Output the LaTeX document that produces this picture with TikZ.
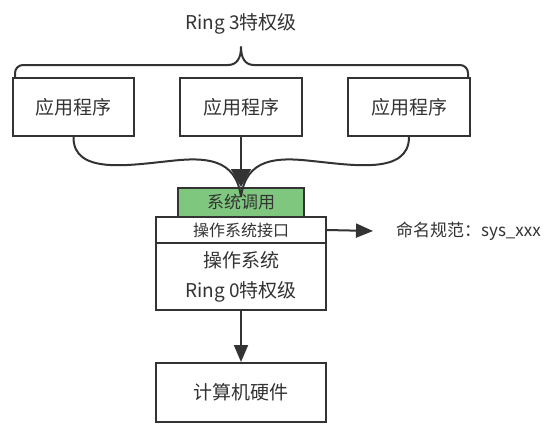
\documentclass[tikz,border=0pt]{standalone}
\usepackage{fontspec}
\setmainfont{Noto Sans CJK SC}
\usetikzlibrary{arrows.meta}
\definecolor{ink}{HTML}{333333}
\definecolor{sysgreen}{HTML}{7FC77F}
\tikzset{
  box/.style={draw=ink, line width=2pt, fill=white, inner sep=0pt, text=ink, font=\fontsize{19}{23}\selectfont, align=center},
  lbl/.style={inner sep=0pt, text=ink},
  conn/.style={draw=ink, line width=2pt},
  bighead/.style={-{Triangle[length=18pt 0 0,width=20pt 0 0]}},
  smallhead/.style={-{Triangle[length=17pt 0 0,width=14pt 0 0]}}
}
\begin{document}
\begin{tikzpicture}[x=1pt,y=-1pt]
\useasboundingbox[fill=white] (0,0) rectangle (559,432);
% top label and brace
\node[lbl, font=\fontsize{19}{23}\selectfont] (ring3) at (241,24) {Ring 3特权级};
\draw[conn, line cap=round, line join=round] (15,77) -- (15,73) arc[start angle=180, end angle=270, radius=8] -- (228,65)
  .. controls (237,65) and (241,58) .. (241,47)
  .. controls (241,58) and (245,65) .. (254,65) -- (460,65)
  arc[start angle=270, end angle=360, radius=8] -- (468,77);
% application boxes
\node[box, minimum width=121pt, minimum height=58pt] (app1) at (73.5,107) {应用程序};
\node[box, minimum width=122pt, minimum height=58pt] (app2) at (241,107) {应用程序};
\node[box, minimum width=122pt, minimum height=58pt] (app3) at (409,107) {应用程序};
% OS stack
\node[box, fill=sysgreen, minimum width=126pt, minimum height=29pt, font=\fontsize{17}{20}\selectfont] (sys) at (241,202.5) {系统调用};
\node[box, minimum width=170pt, minimum height=26pt, font=\fontsize{16}{19}\selectfont] (iface) at (241,230) {操作系统接口};
\node[box, minimum width=170pt, minimum height=67pt, font=\fontsize{19}{30}\selectfont] (os) at (241,276.5) {操作系统\\Ring 0特权级};
\node[box, minimum width=170pt, minimum height=59pt] (hw) at (241,392.5) {计算机硬件};
\node[lbl, anchor=west, font=\fontsize{17}{20}\selectfont] (nm) at (396,231) {命名规范：sys\_xxx};
% connectors
\draw[conn] (app1.south) .. controls (73,175) and (130,165) .. (170,161)
  .. controls (205,157) and (236,158) .. ([yshift=-10pt]sys.north);
\draw[conn] (app3.south) .. controls (409,175) and (352,165) .. (312,161)
  .. controls (277,157) and (246,158) .. ([yshift=-10pt]sys.north);
\draw[conn, bighead] (app2.south) -- (sys.north);
\draw[conn, smallhead] (iface.east) -- ([xshift=-23pt]nm.west);
\draw[conn, smallhead] (os.south) -- (hw.north);
\end{tikzpicture}
\end{document}
